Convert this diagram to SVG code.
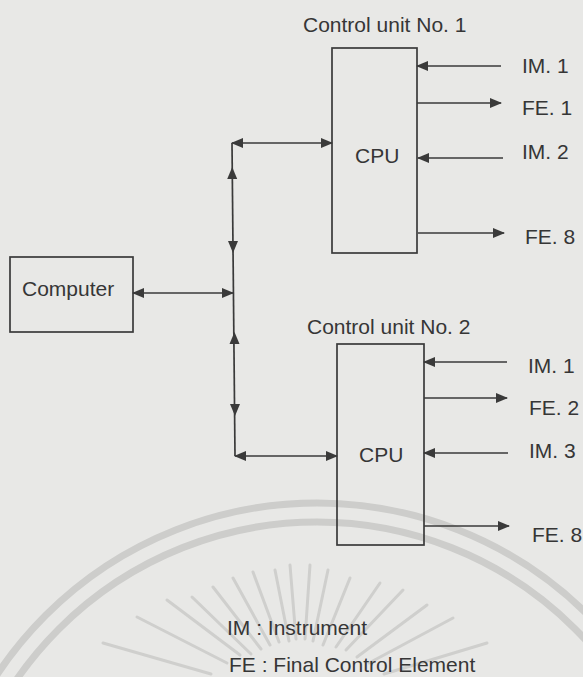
<svg xmlns="http://www.w3.org/2000/svg" xmlns:xlink="http://www.w3.org/1999/xlink" width="583" height="677" viewBox="0 0 583 677">
<defs>
<style>
.bg{fill:#e8e8e6}
.wm{fill:none;stroke:#cdcdcb;stroke-width:7}
.ray{stroke:#cfcfcd;stroke-width:3;stroke-linecap:round}
.box{fill:none;stroke:#3a3a3a;stroke-width:1.7}
.ln{fill:none;stroke:#3a3a3a;stroke-width:1.7}
.t{font-family:"Liberation Sans",Arial,sans-serif;font-size:21px;fill:#363636}
.ah{fill:#3a3a3a}
</style>
<marker id="arr" viewBox="0 0 12 10" refX="11" refY="5" markerWidth="12" markerHeight="10" markerUnits="userSpaceOnUse" orient="auto-start-reverse">
<path d="M0,0 L12,5 L0,10 Z" fill="#3a3a3a"/>
</marker>
<path id="ah" d="M0,0 L-12,-5 L-12,5 Z"/>
</defs>
<rect class="bg" x="0" y="0" width="583" height="677"/>
<g id="watermark">
<circle class="wm" cx="317" cy="887" r="384"/>
<circle class="wm" cx="317" cy="887" r="365"/>
<line class="ray" x1="103" y1="643" x2="211" y2="674"/>
<line class="ray" x1="137" y1="617" x2="227" y2="663"/>
<line class="ray" x1="167" y1="600" x2="240" y2="655"/>
<line class="ray" x1="192" y1="597" x2="251" y2="654"/>
<line class="ray" x1="213" y1="587" x2="261" y2="649"/>
<line class="ray" x1="233" y1="578" x2="270" y2="645"/>
<line class="ray" x1="253" y1="572" x2="279" y2="642"/>
<line class="ray" x1="275" y1="570" x2="289" y2="641"/>
<line class="ray" x1="290" y1="565" x2="296" y2="639"/>
<line class="ray" x1="310" y1="565" x2="305" y2="639"/>
<line class="ray" x1="328" y1="570" x2="313" y2="641"/>
<line class="ray" x1="350" y1="578" x2="323" y2="645"/>
<line class="ray" x1="380" y1="583" x2="336" y2="647"/>
<line class="ray" x1="403" y1="590" x2="346" y2="650"/>
<line class="ray" x1="427" y1="605" x2="357" y2="657"/>
<line class="ray" x1="453" y1="618" x2="369" y2="663"/>
<line class="ray" x1="487" y1="643" x2="384" y2="674"/>
</g>
<g id="computer">
<rect class="box" x="10" y="257" width="123" height="75"/>
<text class="t" x="22" y="296">Computer</text>
</g>
<g id="cu1">
<text class="t" x="303" y="32">Control unit No. 1</text>
<rect class="box" x="332" y="48" width="85" height="205"/>
<text class="t" x="355" y="163">CPU</text>
</g>
<g id="cu2">
<text class="t" x="307" y="334">Control unit No. 2</text>
<rect class="box" x="337" y="344" width="87" height="201"/>
<text class="t" x="359" y="462">CPU</text>
</g>
<g id="labels">
<text class="t" x="522" y="73">IM. 1</text>
<text class="t" x="522" y="115">FE. 1</text>
<text class="t" x="522" y="159">IM. 2</text>
<text class="t" x="525" y="244">FE. 8</text>
<text class="t" x="528" y="373">IM. 1</text>
<text class="t" x="529" y="415">FE. 2</text>
<text class="t" x="529" y="458">IM. 3</text>
<text class="t" x="532" y="542">FE. 8</text>
<text class="t" x="227" y="635">IM : Instrument</text>
<text class="t" x="229" y="672">FE : Final Control Element</text>
</g>
<g id="connectors">
<line class="ln" x1="133" y1="293" x2="233" y2="293" marker-start="url(#arr)" marker-end="url(#arr)"/>
<line class="ln" x1="232" y1="143" x2="332" y2="143" marker-start="url(#arr)" marker-end="url(#arr)"/>
<line class="ln" x1="235" y1="456" x2="337" y2="456" marker-start="url(#arr)" marker-end="url(#arr)"/>
<line class="ln" x1="232" y1="143" x2="235" y2="456"/>
<use href="#ah" class="ah" transform="translate(232.2,167) rotate(-90)"/>
<use href="#ah" class="ah" transform="translate(233,253) rotate(90)"/>
<use href="#ah" class="ah" transform="translate(234.5,332) rotate(-90)"/>
<use href="#ah" class="ah" transform="translate(235,416) rotate(90)"/>
<line class="ln" x1="501" y1="66" x2="417" y2="66" marker-end="url(#arr)"/>
<line class="ln" x1="417" y1="103" x2="501" y2="103" marker-end="url(#arr)"/>
<line class="ln" x1="503" y1="158" x2="418" y2="158" marker-end="url(#arr)"/>
<line class="ln" x1="418" y1="233" x2="504" y2="233" marker-end="url(#arr)"/>
<line class="ln" x1="507" y1="362" x2="424" y2="362" marker-end="url(#arr)"/>
<line class="ln" x1="424" y1="398" x2="507" y2="398" marker-end="url(#arr)"/>
<line class="ln" x1="508" y1="453" x2="424" y2="453" marker-end="url(#arr)"/>
<line class="ln" x1="424" y1="526" x2="509" y2="526" marker-end="url(#arr)"/>
</g>
</svg>
